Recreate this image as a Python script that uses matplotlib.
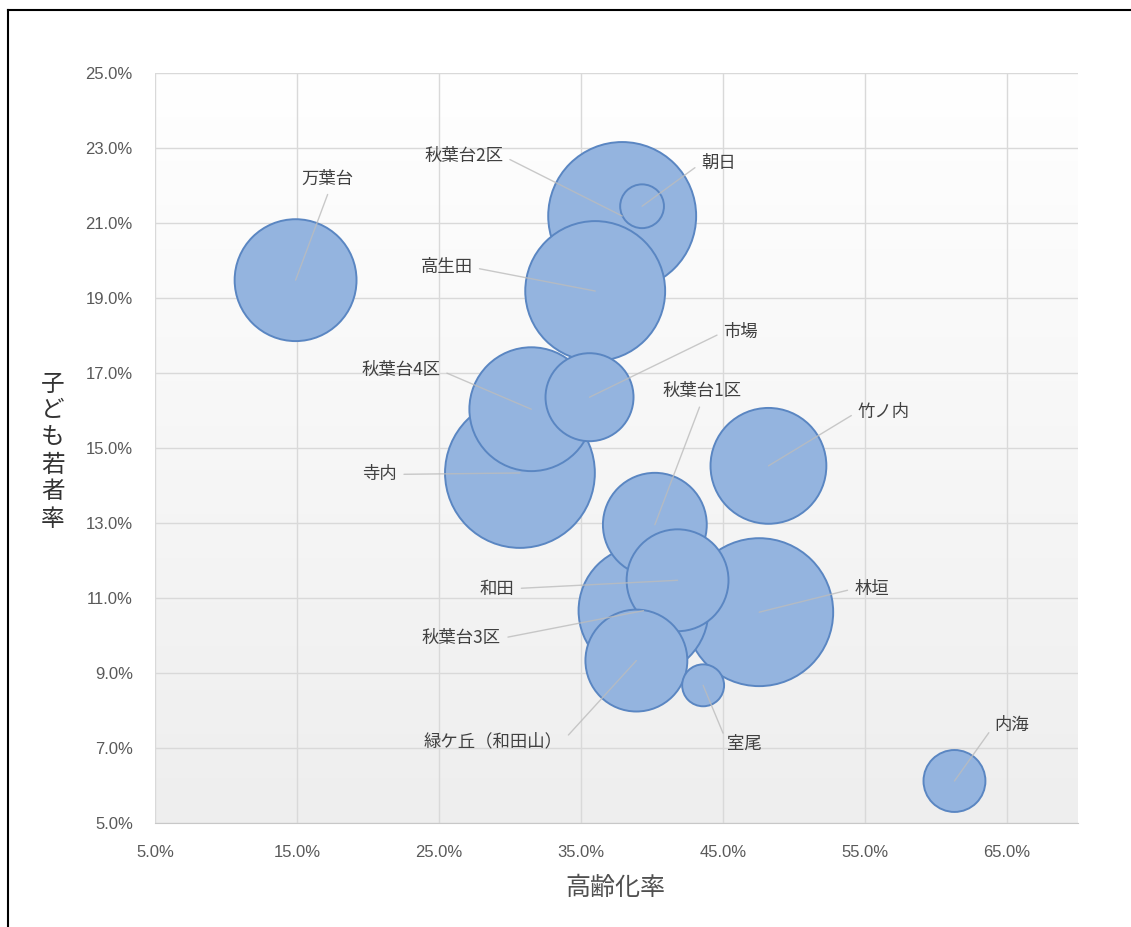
import numpy as np
import matplotlib
matplotlib.use("Agg")
import matplotlib.pyplot as plt
from matplotlib.lines import Line2D
from matplotlib.ticker import FuncFormatter, MultipleLocator

plt.rcParams['font.family'] = ['Noto Sans CJK JP', 'DejaVu Sans']

# ---- data ----
areas = ['万葉台', '秋葉台2区', '朝日', '高生田', '市場', '秋葉台4区', '秋葉台1区',
         '竹ノ内', '寺内', '林垣', '和田', '秋葉台3区', '緑ケ丘（和田山）', '室尾', '内海']
aging_rate = [14.9, 37.9, 39.3, 36.0, 35.6, 31.5, 40.2,
              48.2, 30.7, 47.55, 41.8, 39.4, 38.9, 43.6, 61.3]      # 高齢化率 %
youth_rate = [19.47, 21.18, 21.44, 19.18, 16.35, 16.03, 12.95,
              14.52, 14.33, 10.62, 11.47, 10.66, 9.33, 8.67, 6.12]  # 子ども若者率 %
bubble_size = [3720, 5480, 480, 4900, 1940, 3840, 2700,
               3360, 5620, 5480, 2600, 4220, 2600, 440, 960]

x_ticks = [5, 15, 25, 35, 45, 55, 65]
y_ticks = [5, 7, 9, 11, 13, 15, 17, 19, 21, 23, 25]

# label offsets from the bubble centre (points) and where the leader leaves the text
label_offsets = [(23, 73), (-114, 43), (55, 31), (-107, 17), (109, 47), (-94, 28), (34, 96),
                 (83, 39), (-101, -1), (81, 17), (-130, -6), (-131, -20), (-103, -58),
                 (30, -42), (41, 40)]
label_relpos = [(0.55, 0), (1, 0.5), (0, 0.5), (1, 0.5), (0, 0.5), (1, 0.5), (0.5, 0),
                (0, 0.5), (1, 0.5), (0, 0.5), (1, 0.5), (1, 0.5), (1, 0.5),
                (0, 0.5), (0, 0.5)]

# ---- figure ----
fig = plt.figure(figsize=(11.31, 9.27), dpi=100)
ax = fig.add_axes([155 / 1131, 1 - 823 / 927, (1078 - 155) / 1131, (823 - 72.7) / 927])

# plot area: white at the top fading to light grey at the bottom
grad = np.linspace(0, 1, 256).reshape(-1, 1)
ax.imshow(grad, extent=[0, 1, 0, 1], transform=ax.transAxes, aspect='auto',
          cmap=matplotlib.colors.LinearSegmentedColormap.from_list('bg', ['#eeeeee', '#ffffff']),
          origin='lower', zorder=0)

x = np.array(aging_rate)
y = np.array(youth_rate)
sz = np.array(bubble_size, dtype=float)
order = np.argsort(-sz)  # big bubbles behind, small ones in front
ax.scatter(x[order], y[order], s=sz[order] * 2.07, c='#94b4df', edgecolors='#5a86c2',
           linewidths=1.4, zorder=3)

label_font = dict(fontsize=12.5, color='#404040')
for i, name in enumerate(areas):
    ax.annotate(name, xy=(x[i], y[i]), xytext=label_offsets[i], textcoords='offset points',
                ha='center', va='center', zorder=5, **label_font,
                arrowprops=dict(arrowstyle='-', color='#bcbcbc', lw=1.0, alpha=0.8,
                                shrinkA=3, shrinkB=0, relpos=label_relpos[i]))

ax.set_xlim(5, 70)
ax.set_ylim(5, 25)
ax.set_xticks(x_ticks)
ax.set_yticks(y_ticks)
ax.xaxis.set_major_formatter(FuncFormatter(lambda v, p: f'{v:.1f}%'))
ax.yaxis.set_major_formatter(FuncFormatter(lambda v, p: f'{v:.1f}%'))
ax.grid(True, color='#d9d9d9', lw=1.0, zorder=1)
ax.set_axisbelow(True)
for side in ['top', 'right', 'left']:
    ax.spines[side].set_visible(False)
ax.spines['bottom'].set_color('#c8c8c8')
ax.tick_params(length=0, pad=16, labelsize=12, labelcolor='#595959')
for lab in ax.get_xticklabels() + ax.get_yticklabels():
    lab.set_fontfamily(['Liberation Sans', 'DejaVu Sans'])

# axis titles
fig.text(615 / 1131, 1 - 888 / 927, '高齢化率', ha='center', va='center',
         fontsize=18, color='#505050')
for k, ch in enumerate('子ども若者率'):
    fig.text(53 / 1131, 1 - (384 + k * 27) / 927, ch, ha='center', va='center',
             fontsize=17, color='#333333')

# outer frame (only left and top edges are in the picture)
fig.add_artist(Line2D([8 / 1131, 8 / 1131], [0, 1 - 10 / 927], color='black', lw=1.5))
fig.add_artist(Line2D([8 / 1131, 1], [1 - 10 / 927, 1 - 10 / 927], color='black', lw=1.5))

fig.savefig('out.png', dpi=100)
